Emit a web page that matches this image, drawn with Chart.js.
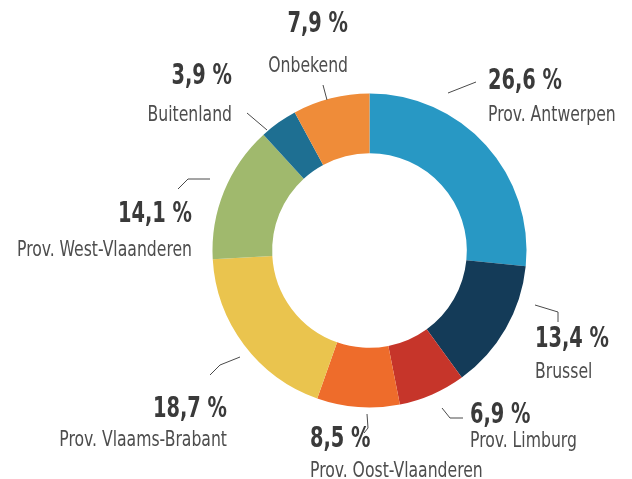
<!DOCTYPE html>
<html>
<head>
<meta charset="utf-8">
<script src="https://cdn.jsdelivr.net/npm/chart.js@4/dist/chart.umd.min.js"></script>
<style>
    html, body { margin: 0; padding: 0; background: #fff; }
</style>
</head>
<body>
<canvas id="chart" width="632" height="479"></canvas>
<script>
// Data
const regions = ['Prov. Antwerpen', 'Brussel', 'Prov. Limburg', 'Prov. Oost-Vlaanderen',
    'Prov. Vlaams-Brabant', 'Prov. West-Vlaanderen', 'Buitenland', 'Onbekend'];
const shares = [26.6, 13.4, 6.9, 8.5, 18.7, 14.1, 3.9, 7.9];
const sliceColors = ['#2898c4', '#143b58', '#c6352a', '#ee6c2b', '#eac44e', '#a0b96d', '#1e6f92', '#ef8c39'];

// Label layout, offsets from the doughnut centre
const labelLayout = [
    { align: 'left',  x: 118.5, pct: -161.5, name: -129.5, leader: [[78.5, -157.5], [106.5, -168.5]] },
    { align: 'left',  x: 165.5, pct: 96.5,   name: 127.5,  leader: [[165.5, 54.5], [188.5, 61.5], [188.5, 71.5]] },
    { align: 'left',  x: 100.5, pct: 172.5,  name: 196.5,  leader: [[72.5, 157.5], [80.5, 167.5], [93.5, 167.5]] },
    { align: 'left',  x: -59.5, pct: 196.5,  name: 226.5,  leader: [[-2.5, 163.5], [-1.5, 177.5], [-5.5, 182.5]] },
    { align: 'right', x: -142.5, pct: 166.5, name: 195.5,  leader: [[-159.5, 124.5], [-149.5, 114.5], [-129.5, 106.5]] },
    { align: 'right', x: -177.5, pct: -28.5, name: 5.5,    leader: [[-191.5, -61.5], [-181.5, -71.5], [-159.5, -71.5]] },
    { align: 'right', x: -137.5, pct: -166.5, name: -129.5, leader: [[-122.5, -137.5], [-102.5, -120.5]] },
    { align: 'right', x: -21.5, pct: -218.5, name: -178.5, leader: [[-46.5, -165.5], [-42.5, -150.5]] }
];

const fontFamily = "'Liberation Sans Narrow', 'DejaVu Sans Condensed', 'Liberation Sans', sans-serif";
const pctFont = 'bold 28px ' + fontFamily;
const nameFont = '21px ' + fontFamily;

function formatShare(value) {
    return value.toFixed(1).replace('.', ',') + ' %';
}

// draw text squeezed horizontally by sx
function drawText(ctx, text, x, y, align, sx) {
    const w = ctx.measureText(text).width * sx;
    let left = x;
    if (align === 'right') left = x - w;
    else if (align === 'center') left = x - w / 2;
    ctx.save();
    ctx.translate(left, y);
    ctx.scale(sx, 1);
    ctx.textAlign = 'left';
    ctx.fillText(text, 0, 0);
    ctx.restore();
}

const outsideLabels = {
    id: 'outsideLabels',
    afterDatasetsDraw(chart) {
        const ctx = chart.ctx;
        const arc = chart.getDatasetMeta(0).data[0];
        const cx = arc.x, cy = arc.y;

        ctx.save();
        ctx.font = nameFont;
        const nameScale = 175 / ctx.measureText('Prov. West-Vlaanderen').width;
        ctx.font = pctFont;
        const pctScale = 74 / ctx.measureText('14,1 %').width;
        ctx.textBaseline = 'alphabetic';

        labelLayout.forEach((l, i) => {
            // leader line
            ctx.strokeStyle = '#4a4a4a';
            ctx.lineWidth = 1;
            ctx.beginPath();
            l.leader.forEach((p, j) => {
                if (j === 0) ctx.moveTo(cx + p[0], cy + p[1]);
                else ctx.lineTo(cx + p[0], cy + p[1]);
            });
            ctx.stroke();

            ctx.fillStyle = '#3a3a3a';
            ctx.font = pctFont;
            drawText(ctx, formatShare(shares[i]), cx + l.x, cy + l.pct, l.align, pctScale);

            ctx.fillStyle = '#4d4d4d';
            ctx.font = nameFont;
            drawText(ctx, regions[i], cx + l.x, cy + l.name, l.align, nameScale);
        });
        ctx.restore();
    }
};

new Chart(document.getElementById('chart'), {
    type: 'doughnut',
    data: {
        labels: regions,
        datasets: [{
            data: shares,
            backgroundColor: sliceColors,
            borderWidth: 0,
            hoverOffset: 0
        }]
    },
    options: {
        responsive: false,
        animation: false,
        cutout: '62%',
        layout: {
            padding: { left: 212.5, right: 105.5, top: 93.5, bottom: 71.5 }
        },
        plugins: {
            legend: { display: false },
            tooltip: { enabled: false }
        }
    },
    plugins: [outsideLabels]
});
</script>
</body>
</html>
